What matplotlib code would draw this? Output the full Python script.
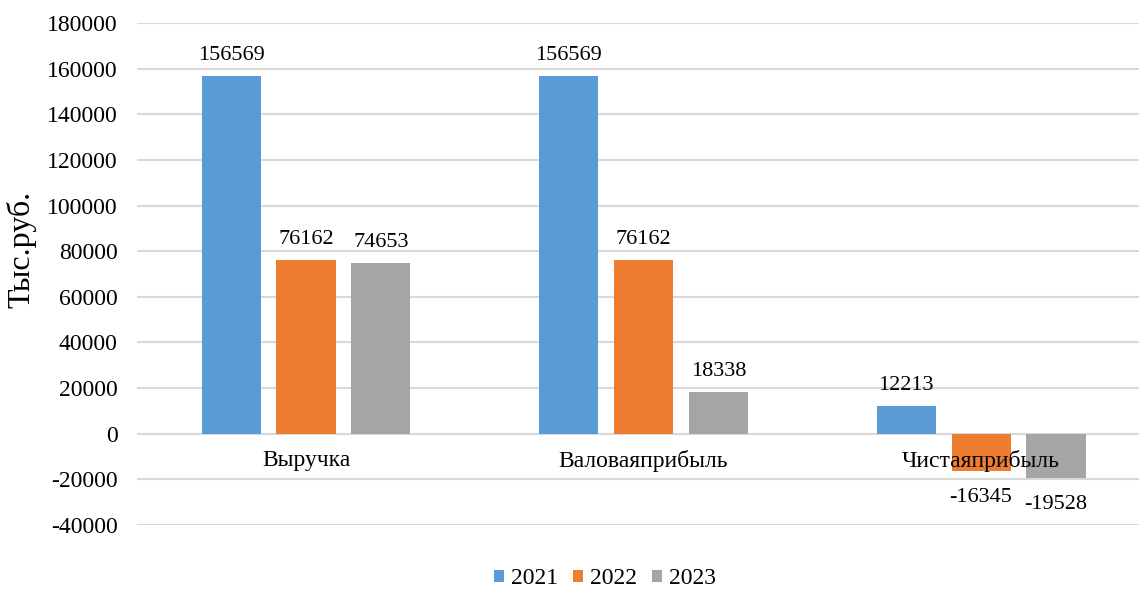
import matplotlib.pyplot as plt
import numpy as np

plt.rcParams['font.family'] = 'serif'
plt.rcParams['font.serif'] = ['Liberation Serif', 'Times New Roman', 'DejaVu Serif']
plt.rcParams['axes.unicode_minus'] = False

categories = ['Выручка', 'Валоваяприбыль', 'Чистаяприбыль']
years = ['2021', '2022', '2023']
v2021 = [156569, 156569, 12213]
v2022 = [76162, 76162, -16345]
v2023 = [74653, 18338, -19528]
colors = ['#5b9bd5', '#ed7d31', '#a5a5a5']

fig = plt.figure(figsize=(11.39, 5.90), dpi=100)
ax = fig.add_axes([0.1205, 0.1102, 0.8890, 0.8508])

x = np.arange(len(categories))
width = 0.175
step = 0.222
for k, (vals, lab, col) in enumerate(zip([v2021, v2022, v2023], years, colors)):
    pos = x + (k - 1) * step
    ax.bar(pos, vals, width, color=col, label=lab, zorder=2)
    for xp, v in zip(pos, vals):
        if v >= 0:
            ax.annotate(str(v), (xp, v), xytext=(0, 8), textcoords='offset points',
                        ha='center', va='bottom', fontsize=16)
        else:
            ax.annotate(str(v), (xp, v), xytext=(0, -12), textcoords='offset points',
                        ha='center', va='top', fontsize=16)

for i, name in enumerate(categories):
    ax.annotate(name, (i, 0), xytext=(0, -12), textcoords='offset points',
                ha='center', va='top', fontsize=17, zorder=3)

ax.set_xlim(-0.5, 2.5)
ax.set_ylim(-40000, 180000)
ax.set_yticks(np.arange(-40000, 180001, 20000))
ax.tick_params(axis='y', labelsize=17, length=0, pad=14)
ax.set_xticks([])
ax.grid(axis='y', color='#d9d9d9', linewidth=1.5, zorder=0)
for s in ax.spines.values():
    s.set_visible(False)
ax.set_ylabel('Тыс.руб.', fontsize=23, labelpad=8)
ax.yaxis.set_label_coords(-0.1, 0.548)

ax.legend(loc='lower center', bbox_to_anchor=(0.462, -0.161),
          ncol=3, frameon=False, fontsize=17, handlelength=0.45, handleheight=0.45,
          handletextpad=0.3, columnspacing=0.6, borderpad=0.2)

fig.savefig('out.png', dpi=100)
